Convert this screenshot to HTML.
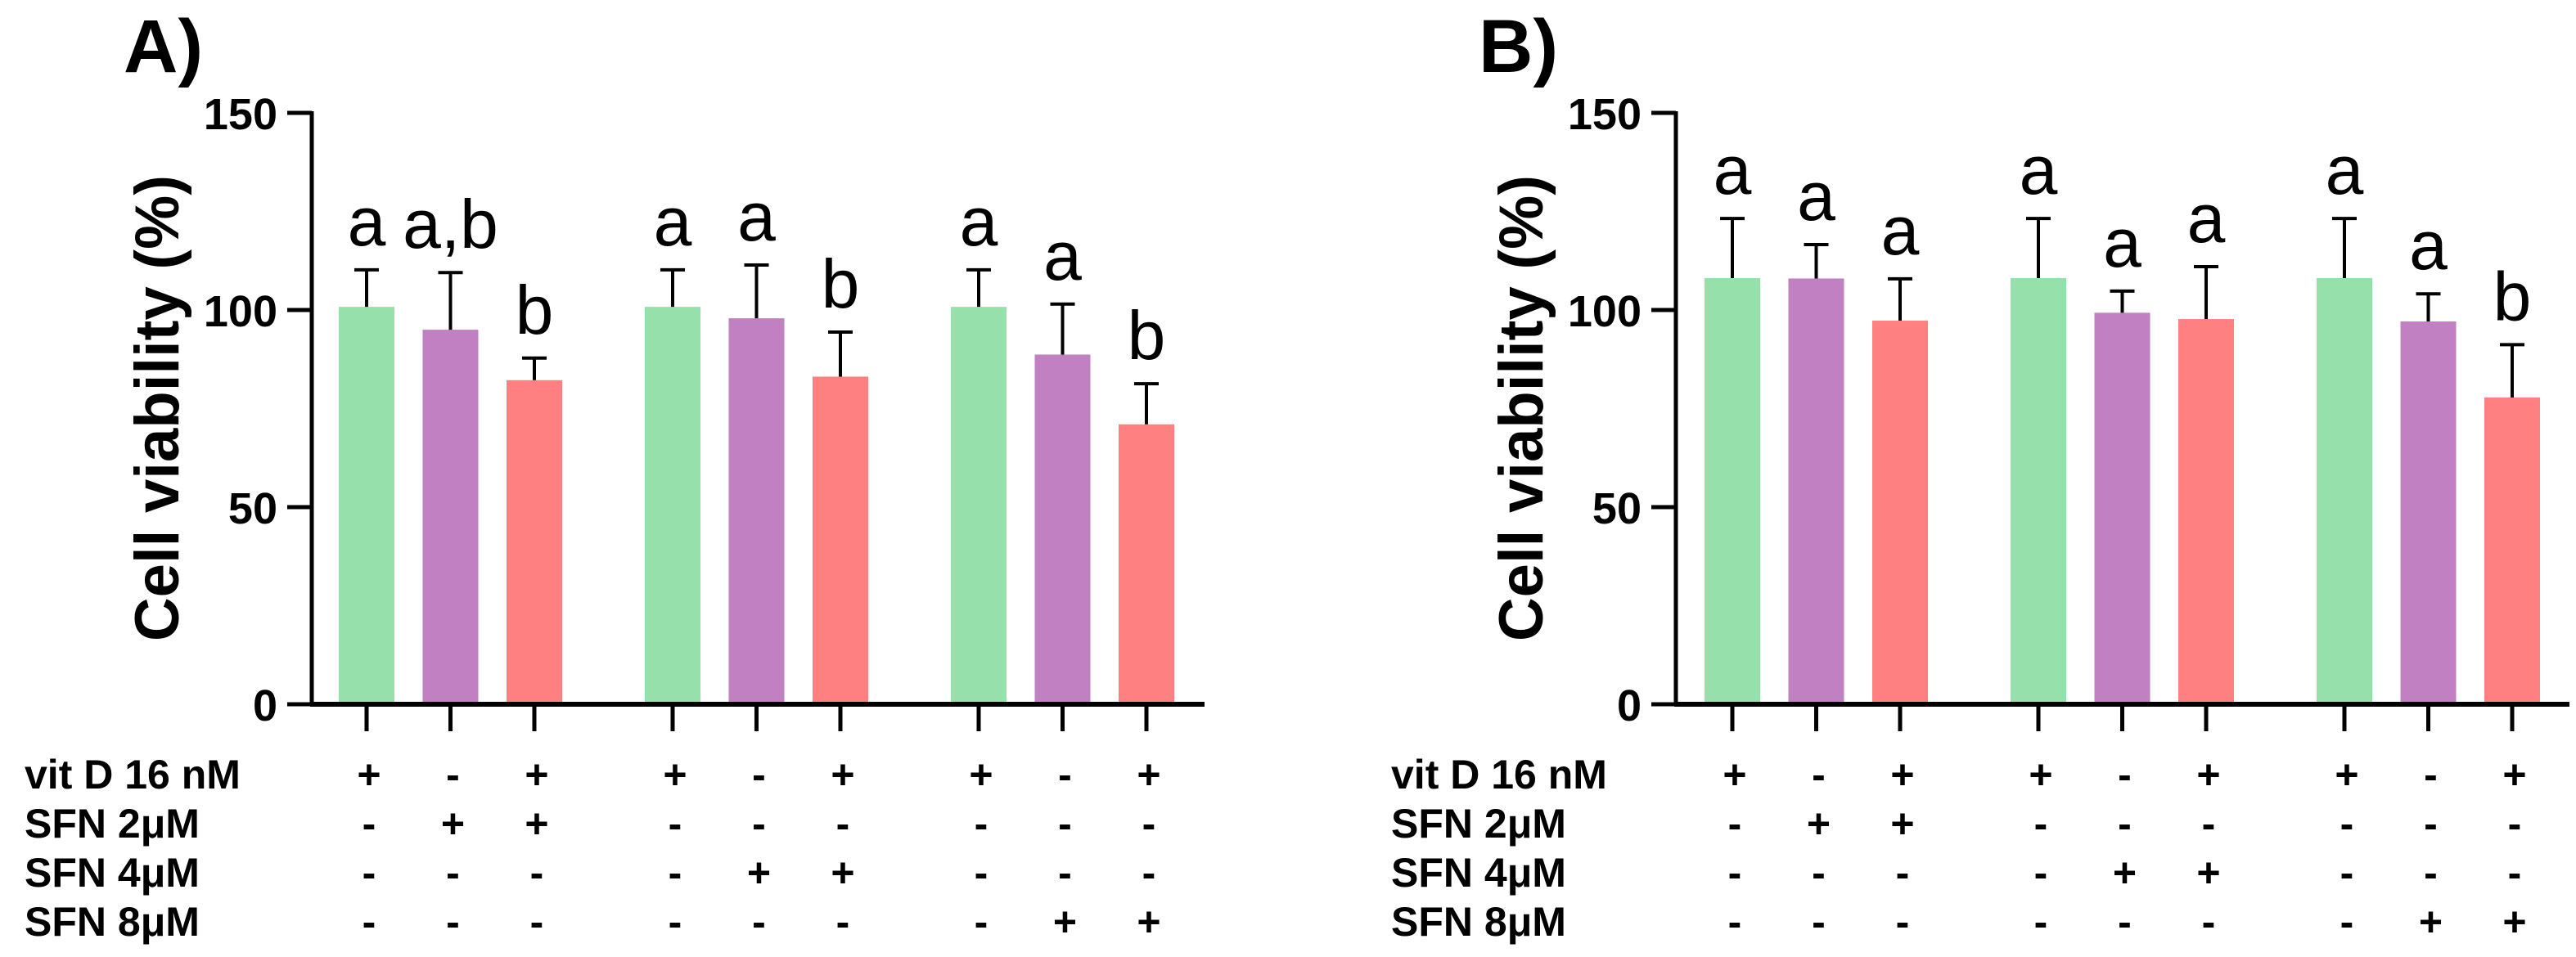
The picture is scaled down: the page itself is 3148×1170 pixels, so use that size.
<!DOCTYPE html>
<html><head><meta charset="utf-8"><style>
html,body{margin:0;padding:0;background:#fff;}
svg{display:block;}
text{font-family:"Liberation Sans Narrow","Liberation Sans",sans-serif;}
</style></head><body>
<svg id="chart" width="3148" height="1170" viewBox="0 0 3148 1170" xmlns="http://www.w3.org/2000/svg"></svg>
<script>
const ticks = [0, 50, 100, 150];
const tickLabels = ["0", "50", "100", "150"];
const colors = ["#96e0ab", "#c080c2", "#ff8080"];
const valuesA = [100.8, 95.0, 82.2, 100.8, 97.9, 83.1, 100.8, 88.7, 71.0];
const errTopA = [110.2, 109.5, 87.8, 110.2, 111.4, 94.4, 110.2, 101.5, 81.3];
const lettersA = ["a", "a,b", "b", "a", "a", "b", "a", "a", "b"];
const valuesB = [108.1, 108.0, 97.3, 108.1, 99.3, 97.7, 108.1, 97.1, 77.8];
const errTopB = [123.2, 116.6, 107.9, 123.2, 104.8, 111.0, 123.2, 104.1, 91.2];
const lettersB = ["a", "a", "a", "a", "a", "a", "a", "a", "b"];
const rowLabels = ["vit D 16 nM", "SFN 2\u03bcM", "SFN 4\u03bcM", "SFN 8\u03bcM"];
const rowSigns = [
  ["+","-","+","+","-","+","+","-","+"],
  ["-","+","+","-","-","-","-","-","-"],
  ["-","-","-","-","+","+","-","-","-"],
  ["-","-","-","-","-","-","-","+","+"]
];
const NS = "http://www.w3.org/2000/svg";
const svg = document.getElementById("chart");
function mk(tag, attrs, parent, txt){
  const e = document.createElementNS(NS, tag);
  for (const k in attrs) e.setAttribute(k, attrs[k]);
  if (txt !== undefined) e.textContent = txt;
  (parent || svg).appendChild(e);
  return e;
}
const y0 = 861, pxPerUnit = 4.82;
function yScale(v){ return y0 - v * pxPerUnit; }

function panel(p){
  const g = mk("g", {});
  
  
  function xScale(i){ return p.x0 + Math.floor(i/3)*374 + (i%3)*102.5; }
  // panel label
  const pl = mk("text", {x:p.labelX, y:88, "font-size":92, "font-weight":"bold", "font-family":"Liberation Sans, sans-serif"}, g, p.label);
  
  
  // y title
  const yt = mk("text", {x:0, y:0, "font-size":76, "font-weight":"bold", "text-anchor":"middle", "font-family":"Liberation Sans, sans-serif", textLength:570, lengthAdjust:"spacingAndGlyphs", transform:`translate(${p.axisX-163},499) rotate(-90)`}, g, "Cell viability (%)");
  
  
  // bars
  p.values.forEach((v,i)=>{
    const cx = xScale(i);
    const b = mk("rect", {x:cx-34, y:yScale(v), width:68, height:y0-yScale(v), fill:colors[i%3]}, g);
    
    
    const e = mk("path", {d:`M${cx},${yScale(v)}V${yScale(p.err[i])}M${cx-15},${yScale(p.err[i])}H${cx+15}`, stroke:"#000", "stroke-width":4, fill:"none"}, g);
    
    
    const l = mk("text", {x:cx, y:yScale(p.err[i])-30, "font-size":84, "text-anchor":"middle", "font-family":"Liberation Sans, sans-serif"}, g, p.letters[i]);
    
    
    const t = mk("line", {x1:cx, x2:cx, y1:y0, y2:894, stroke:"#000", "stroke-width":5}, g);
    
    
    rowSigns.forEach((row,r)=>{
      const s = mk("text", {x:cx+3, y:964+r*60, "font-size":50, "font-weight":"bold", "text-anchor":"middle"}, g, row[i]);
      
      
    });
  });
  // axes
  const ya = mk("line", {x1:p.axisX, x2:p.axisX, y1:yScale(150)-2, y2:y0+2, stroke:"#000", "stroke-width":5}, g);
  
  
  const xa = mk("line", {x1:p.axisX-2, x2:p.axisEnd, y1:y0, y2:y0, stroke:"#000", "stroke-width":6}, g);
  
  
  ticks.forEach((v,k)=>{
    const tl = mk("line", {x1:p.axisX-30, x2:p.axisX, y1:yScale(v), y2:yScale(v), stroke:"#000", "stroke-width":5}, g);
    
    
    const tx = mk("text", {x:p.axisX-42, y:yScale(v)+20, "font-size":54, "font-weight":"bold", "text-anchor":"end"}, g, tickLabels[k]);
    
    
  });
  rowLabels.forEach((lab,r)=>{
    const rl = mk("text", {x:p.rowX, y:964+r*60, "font-size":50, "font-weight":"bold"}, g, lab);
    
    
  });
}
panel({name:"panel-a", label:"A)", labelX:151, axisX:381, axisEnd:1472, x0:448, values:valuesA, err:errTopA, letters:lettersA, rowX:30});
panel({name:"panel-b", label:"B)", labelX:1807, axisX:2048, axisEnd:3140, x0:2117, values:valuesB, err:errTopB, letters:lettersB, rowX:1700});
</script>
</body></html>
